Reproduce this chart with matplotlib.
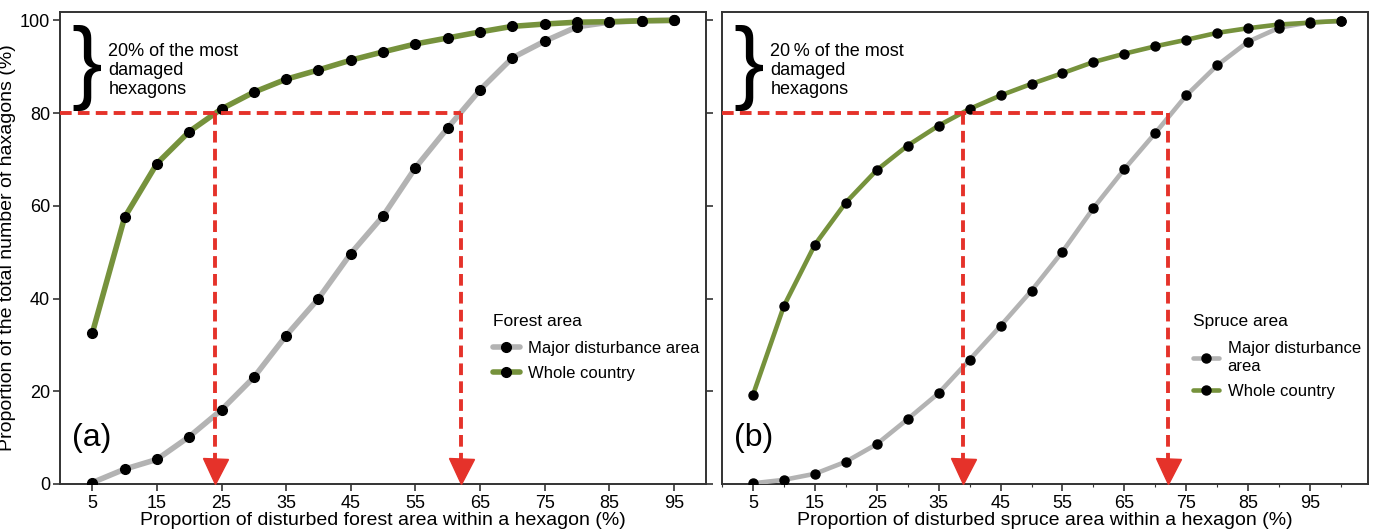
import matplotlib
matplotlib.use("Agg")
import matplotlib.pyplot as plt
from matplotlib.ticker import MultipleLocator

plt.rcParams['font.family'] = ['Liberation Sans', 'DejaVu Sans']

# ---- data ----
x_forest = [5, 10, 15, 20, 25, 30, 35, 40, 45, 50, 55, 60, 65, 70, 75, 80, 85, 90, 95]
forest_major = [0.3, 3.2, 5.3, 10.2, 16.0, 23.0, 32.0, 40.0, 49.7, 57.8, 68.2, 76.8, 85.0,
                91.9, 95.5, 98.6, 99.6, 99.9, 100.0]
forest_whole = [32.5, 57.5, 69.1, 76.0, 80.9, 84.5, 87.3, 89.3, 91.4, 93.2, 94.9, 96.2, 97.5,
                98.7, 99.2, 99.6, 99.7, 99.9, 100.0]

x_spruce = [5, 10, 15, 20, 25, 30, 35, 40, 45, 50, 55, 60, 65, 70, 75, 80, 85, 90, 95, 100]
spruce_major = [0.15, 0.9, 2.2, 4.8, 8.6, 14.0, 19.6, 26.8, 34.1, 41.7, 50.1, 59.5, 67.9,
                75.7, 83.8, 90.3, 95.4, 98.4, 99.6, 99.8]
spruce_whole = [19.2, 38.4, 51.6, 60.7, 67.7, 73.0, 77.3, 80.9, 83.8, 86.3, 88.6, 91.0, 92.8,
                94.4, 95.8, 97.3, 98.3, 99.1, 99.5, 99.9]

threshold = 80
forest_cuts = [24, 62]
spruce_cuts = [39, 72]

xticks = [5, 15, 25, 35, 45, 55, 65, 75, 85, 95]
yticks = [0, 20, 40, 60, 80, 100]

GREEN = '#76923c'
GRAY = '#b3b3b3'
RED = '#e5322a'
SPINE = '#333333'

fig = plt.figure(figsize=(13.75, 5.3), dpi=100)
axA = fig.add_axes([0.0436, 0.0868, 0.47, 0.8906])
axB = fig.add_axes([0.5251, 0.0868, 0.47, 0.8906])


def draw_panel(ax, x, major, whole, cuts, xmax, lw, ms, legend_title, major_label,
               xlabel, letter, note, leg_anchor):
    ax.plot(x, major, color=GRAY, lw=lw, marker='o', ms=ms, mfc='black', mec='black',
            solid_capstyle='round', label=major_label, zorder=3)
    ax.plot(x, whole, color=GREEN, lw=lw, marker='o', ms=ms, mfc='black', mec='black',
            solid_capstyle='round', label='Whole country', zorder=3)

    # red guide lines with arrows
    ax.plot([0, cuts[-1]], [threshold, threshold], color=RED, lw=2.8, ls=(0, (3, 1.6)),
            zorder=4)
    for c in cuts:
        ax.plot([c, c], [threshold, 4], color=RED, lw=2.8, ls=(0, (3, 1.6)), zorder=4)
        ax.plot([c], [2.7], marker='v', ms=18, color=RED, mec=RED, zorder=5,
                clip_on=False)

    ax.set_xlim(0, xmax)
    ax.set_ylim(0, 101.8)
    ax.set_xticks(xticks)
    ax.tick_params(axis='x', direction='out', length=5, width=1.2, colors=SPINE,
                   labelsize=13, labelcolor='black', pad=3)
    ax.set_xlabel(xlabel, fontsize=14, labelpad=0)
    for s in ax.spines.values():
        s.set_color(SPINE)
        s.set_linewidth(1.4)

    leg = ax.legend(loc='upper left', bbox_to_anchor=leg_anchor, frameon=False,
                    title=legend_title, fontsize=12, title_fontsize=12.5,
                    handlelength=1.6, handletextpad=0.5, labelspacing=0.6,
                    numpoints=1, borderaxespad=0)
    leg._legend_box.align = 'left'
    leg._legend_box.sep = 9

    ax.text(0.019, 0.097, letter, transform=ax.transAxes, fontsize=23, va='center',
            ha='left')
    ax.text(0.042, 0.882, '}', transform=ax.transAxes, fontsize=66, va='center',
            ha='center', family='Liberation Sans')
    ax.text(0.075, 0.876, note, transform=ax.transAxes, fontsize=13, va='center',
            ha='left', linespacing=1.15)


draw_panel(axA, x_forest, forest_major, forest_whole, forest_cuts, 100, 4.0, 7,
           'Forest area', 'Major disturbance area',
           'Proportion of disturbed forest area within a hexagon (%)', '(a)',
           '20% of the most\ndamaged\nhexagons', (0.66, 0.375))
draw_panel(axB, x_spruce, spruce_major, spruce_whole, spruce_cuts, 104.4, 3.3, 6.5,
           'Spruce area', 'Major disturbance\narea',
           'Proportion of disturbed spruce area within a hexagon (%)', '(b)',
           '20\u2009% of the most\ndamaged\nhexagons', (0.718, 0.375))

axA.set_yticks(yticks)
axA.tick_params(axis='y', direction='out', length=5, width=1.2, colors=SPINE,
                labelsize=13, labelcolor='black', right=True, pad=2)
axA.set_ylabel('Proportion of the total number of haxagons (%)', fontsize=14, labelpad=3)

axB.set_yticks([])
axB.xaxis.set_minor_locator(MultipleLocator(5))
axB.tick_params(axis='x', which='minor', direction='out', length=2.5, width=0.8,
                colors=SPINE)

fig.savefig('out.png', dpi=100)
